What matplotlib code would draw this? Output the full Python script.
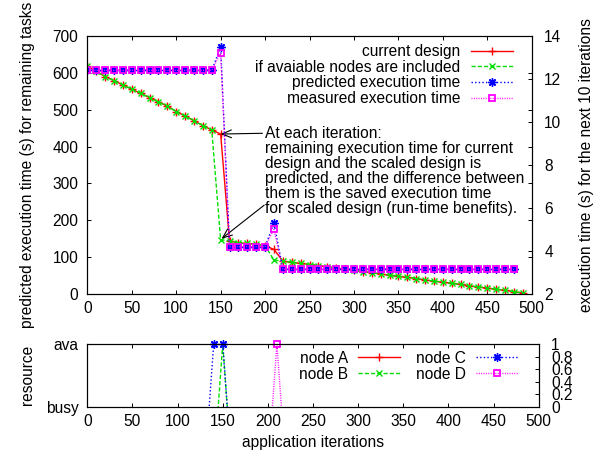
import numpy as np
import matplotlib.pyplot as plt
from matplotlib.lines import Line2D

plt.rcParams['font.family'] = 'Liberation Sans'
plt.rcParams['font.size'] = 11.2

# main panel data (left axis, every 10 iterations)
iters = np.arange(0, 500, 10)
current_design = [619, 604, 590, 579, 567, 556, 544, 533, 521, 510,
                  495, 483, 470, 457, 445, 434, 144, 139, 137, 135,
                  131, 121, 89, 86, 83, 80, 77, 74, 70, 67,
                  64, 61, 58, 54, 51, 48, 45, 42, 38, 35,
                  32, 29, 26, 22, 19, 16, 13, 10, 6, 3]
with_nodes = [619, 604, 590, 579, 567, 556, 544, 533, 521, 510,
              495, 483, 470, 457, 445, 147, 144, 139, 137, 135,
              131, 92, 89, 86, 83, 80, 77, 74, 70, 67,
              64, 61, 58, 54, 51, 48, 45, 42, 38, 35,
              32, 29, 26, 22, 19, 16, 13, 10, 6, 3]

# right axis data
exec_iters = np.arange(0, 490, 10)
predicted = [12.4, 12.4, 12.4, 12.4, 12.4, 12.4, 12.4, 12.4, 12.4, 12.4,
             12.4, 12.4, 12.4, 12.4, 12.4, 13.5, 4.2, 4.2, 4.2, 4.2,
             4.2, 5.3, 3.15, 3.15, 3.15, 3.15, 3.15, 3.15, 3.15, 3.15,
             3.15, 3.15, 3.15, 3.15, 3.15, 3.15, 3.15, 3.15, 3.15, 3.15,
             3.15, 3.15, 3.15, 3.15, 3.15, 3.15, 3.15, 3.15, 3.15]
measured = [12.4, 12.4, 12.4, 12.4, 12.4, 12.4, 12.4, 12.4, 12.4, 12.4,
            12.4, 12.4, 12.4, 12.4, 12.4, 13.2, 4.2, 4.2, 4.2, 4.2,
            4.2, 5.0, 3.15, 3.15, 3.15, 3.15, 3.15, 3.15, 3.15, 3.15,
            3.15, 3.15, 3.15, 3.15, 3.15, 3.15, 3.15, 3.15, 3.15, 3.15,
            3.15, 3.15, 3.15, 3.15, 3.15, 3.15, 3.15, 3.15, 3.15]

# resource availability (-1 busy, 1 available)
node_a_x = [0, 490]
node_a_y = [-1, -1]
node_b_x = [0, 140, 150, 160, 490]
node_b_y = [-1, -1, 1, -1, -1]
node_c_x = [0, 130, 140, 150, 160, 490]
node_c_y = [-1, -1, 1, 1, -1, -1]
node_d_x = [0, 200, 210, 220, 490]
node_d_y = [-1, -1, 1, -1, -1]

note = ("At each iteration:\n"
        "remaining execution time for current\n"
        "design and the scaled design is\n"
        "predicted, and the difference between\n"
        "them is the saved execution time\n"
        "for scaled design (run-time benefits).")

RED, GREEN, BLUE, MAG = '#ff0000', '#00e000', '#0000ff', '#ff00ff'
ASTER = (8, 2, 0)
styles = {
    'A': dict(color=RED, ls='-', marker='+', ms=6, mew=1.0, lw=1.0),
    'B': dict(color=GREEN, ls=(0, (3, 1.5)), marker='x', ms=5, mew=1.0, lw=1.0),
    'C': dict(color=BLUE, ls=(0, (1, 1.6)), marker=ASTER, ms=6, mew=1.0, lw=1.0),
    'D': dict(color=MAG, ls=(0, (0.7, 1.0)), marker='s', ms=5, mew=1.3, lw=1.0, mfc='none'),
}

fig = plt.figure(figsize=(6.12, 4.59), dpi=100)
ax = fig.add_axes([0.1427, 0.3595, 0.7261, 0.5621])
ax2 = ax.twinx()

h1, = ax.plot(iters, current_design, label='current design', **styles['A'])
h2, = ax.plot(iters, with_nodes, label='if avaiable nodes are included', **styles['B'])
h3, = ax2.plot(exec_iters, predicted, label='predicted execution time', **styles['C'])
h4, = ax2.plot(exec_iters, measured, label='measured execution time', **styles['D'])

ax.set_xlim(0, 500)
ax.set_ylim(0, 700)
ax2.set_ylim(2, 14)
ax.set_xticks(np.arange(0, 501, 50))
ax.set_yticks(np.arange(0, 701, 100))
ax2.set_yticks(np.arange(2, 15, 2))
ax.tick_params(axis='both', direction='in', length=3, width=0.7, top=True, right=True)
ax.tick_params(axis='y', pad=6.5)
ax.tick_params(axis='x', pad=5)
ax2.tick_params(axis='y', direction='in', length=3, width=0.7, pad=9)
for a in (ax, ax2):
    for s in a.spines.values():
        s.set_linewidth(0.8)

ax2.legend(handles=[h1, h2, h3, h4], loc='upper right', bbox_to_anchor=(0.957, 0.968),
           frameon=False, markerfirst=False, numpoints=1, handlelength=2.7,
           handletextpad=0.65, labelspacing=0.04, borderpad=0, borderaxespad=0)

arrow = dict(arrowstyle='->, head_length=0.6, head_width=0.25', color='black',
             lw=0.8, shrinkA=0, shrinkB=0)
ax.annotate('', xy=(150, 434), xytext=(197, 436), arrowprops=arrow)
ax.annotate('', xy=(151, 150), xytext=(199, 241), arrowprops=arrow)
ax.text(200, 457, note, ha='left', va='top', linespacing=1.0)

fig.text(0.0449, 0.6405, 'predicted execution time (s) for remaining tasks',
         rotation=90, ha='center', va='center')
fig.text(0.959, 0.6405, 'execution time (s) for the next 10 iterations',
         rotation=90, ha='center', va='center')

# resource panel
bx = fig.add_axes([0.1427, 0.1139, 0.7375, 0.1366])
bx2 = bx.twinx()
handles = []
for name, xs, ys in [('A', node_a_x, node_a_y), ('B', node_b_x, node_b_y),
                     ('C', node_c_x, node_c_y), ('D', node_d_x, node_d_y)]:
    st = styles[name]
    xs = np.array(xs)
    ys = np.array(ys)
    line_st = {k: v for k, v in st.items() if k in ('color', 'ls', 'lw')}
    bx.plot(xs, ys, **line_st)
    vis = ys >= 0
    bx.plot(xs[vis], ys[vis], ls='none', clip_on=False,
            **{k: v for k, v in st.items() if k not in ('ls', 'lw')})
    handles.append(Line2D([], [], label='node ' + name, **st))

bx.set_xlim(0, 500)
bx.set_ylim(0, 1)
bx2.set_ylim(0, 1)
bx.set_xticks(np.arange(0, 501, 50))
bx.set_yticks([0, 1])
bx.set_yticklabels(['busy', 'ava'])
bx2.set_yticks([0, 0.2, 0.4, 0.6, 0.8, 1])
bx2.set_yticklabels(['0', '0.2', '0.4', '0.6', '0.8', '1'])
bx.tick_params(axis='both', direction='in', length=3, width=0.7, top=True)
bx.tick_params(axis='y', pad=6.5)
bx.tick_params(axis='x', pad=5)
bx2.tick_params(axis='y', direction='in', length=3, width=0.7, pad=9)
for a in (bx, bx2):
    for s in a.spines.values():
        s.set_linewidth(0.8)

bx2.legend(handles=handles, ncols=2, loc='upper right', bbox_to_anchor=(0.954, 0.89),
           frameon=False, markerfirst=False, numpoints=1, handlelength=2.7,
           handletextpad=0.65, labelspacing=0.04, columnspacing=1.0,
           borderpad=0, borderaxespad=0)

fig.text(0.0445, 0.183, 'resource', rotation=90, ha='center', va='center')
fig.text(0.5114, 0.037, 'application iterations', ha='center', va='center')

fig.savefig('out.png', dpi=100)
